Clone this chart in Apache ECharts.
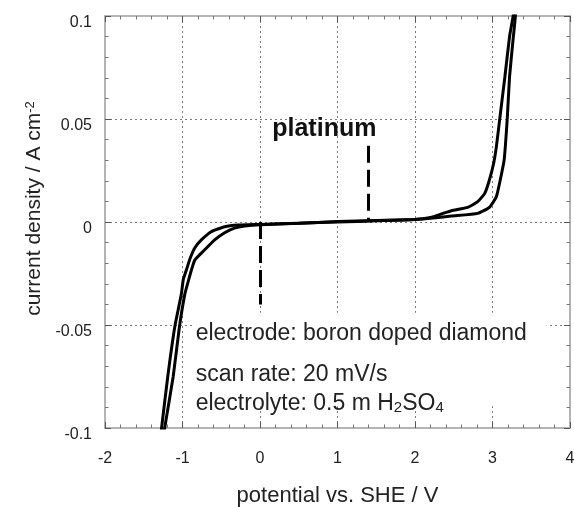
<!DOCTYPE html>
<html>
<head>
<meta charset="utf-8">
<script src="https://cdn.jsdelivr.net/npm/echarts@6/dist/echarts.min.js"></script>
<style>
  html, body { margin: 0; padding: 0; background: #fff; }
  #chart { width: 574px; height: 507px; }
</style>
</head>
<body>
<div id="chart"></div>
<script>
// branch A: outer line on the cathodic side, upper line on the anodic side
const potentialA = [-1.285, -1.27, -1.19, -1.10, -1.015, -0.99, -0.95, -0.90, -0.84, -0.757, -0.63, -0.456, -0.28,
  0.0, 0.5, 1.0, 1.5, 2.0, 2.2, 2.35, 2.47, 2.68, 2.81, 2.90, 2.96, 3.015, 3.05, 3.09, 3.16, 3.22, 3.265, 3.28];
const currentA = [-0.105, -0.100, -0.075, -0.051, -0.035, -0.028, -0.0233, -0.0175, -0.0125, -0.0087, -0.0047, -0.0023, -0.0015,
  -0.0012, -0.0006, 0.0, 0.0006, 0.0012, 0.0022, 0.004, 0.0055, 0.0071, 0.0099, 0.0139, 0.0204, 0.0285, 0.0366, 0.049, 0.0705, 0.090, 0.0997, 0.105];

// branch B: inner line on the cathodic side, lower line on the anodic side
const potentialB = [-1.245, -1.23, -1.12, -1.04, -0.97, -0.92, -0.885, -0.84, -0.716, -0.585, -0.456, -0.33, -0.2,
  0.0, 0.5, 1.0, 1.5, 2.0, 2.2, 2.47, 2.81, 2.96, 3.05, 3.10, 3.15, 3.19, 3.22, 3.265, 3.295, 3.30];
const currentB = [-0.105, -0.100, -0.075, -0.051, -0.035, -0.028, -0.0233, -0.0184, -0.0136, -0.0087, -0.0052, -0.003, -0.002,
  -0.0013, -0.0006, 0.0002, 0.0007, 0.0012, 0.0018, 0.0029, 0.0042, 0.0071, 0.0123, 0.0204, 0.030, 0.050, 0.0705, 0.0884, 0.0997, 0.105];

// dashed markers (potential, start current, end current)
const markerX = [0, 1.4];
const markerFrom = [0, 0.037];
const markerTo = [-0.04, 0];

// text notes
const noteLines = ['electrode: boron doped diamond', 'scan rate: 20 mV/s', 'electrolyte: 0.5 m H{sub|2}SO{sub|4}'];
const noteX = -0.83;
const noteY = [-0.054, -0.074, -0.088];
const ptLabel = 'platinum';
const ptAt = [0.83, 0.0451];

const FONT = '"Liberation Sans", Arial, Helvetica, sans-serif';

let chart = echarts.init(document.getElementById('chart'));

const zip = (xs, ys) => xs.map((x, i) => [x, ys[i]]);

const frameLine = { show: true, onZero: false, lineStyle: { color: '#b4b4b4', width: 2 } };
const inTick = { show: true, inside: true, length: 6, lineStyle: { color: '#555', width: 1 } };
const inMinor = { show: true, splitNumber: 5, length: 3.5, lineStyle: { color: '#777', width: 1 } };
const dotGrid = { show: true, lineStyle: { type: [2, 3], color: '#777', width: 1 } };

const option = {
  animation: false,
  backgroundColor: '#fff',
  // keep the plot box fixed, v6 would otherwise shrink it to fit the names
  grid: { left: 105, right: 4, top: 16, bottom: 79, outerBoundsMode: 'none' },
  xAxis: [{
    type: 'value', min: -2, max: 4, interval: 1, position: 'bottom',
    axisLine: frameLine, axisTick: inTick, minorTick: inMinor,
    axisLabel: { margin: 23, fontSize: 16, color: '#222', fontFamily: FONT },
    splitLine: dotGrid,
    name: 'potential vs. SHE / V', nameLocation: 'middle', nameGap: 57,
    nameTextStyle: { fontSize: 22, color: '#222', fontFamily: FONT }
  }, {
    type: 'value', min: -2, max: 4, interval: 1, position: 'top',
    axisLine: frameLine, axisTick: inTick, minorTick: inMinor,
    axisLabel: { show: false }, splitLine: { show: false }
  }],
  yAxis: [{
    type: 'value', min: -0.1, max: 0.1, interval: 0.05, position: 'left',
    axisLine: frameLine, axisTick: inTick, minorTick: inMinor,
    // labels in the original sit a little below their ticks
    axisLabel: { margin: 13, fontSize: 16, color: '#222', fontFamily: FONT, verticalAlign: 'top', lineHeight: 14 },
    splitLine: dotGrid,
    name: 'current density / A cm{sup|-2}', nameLocation: 'middle', nameGap: 58,
    nameTextStyle: {
      fontSize: 21, color: '#222', fontFamily: FONT, padding: [0, 0, 0, 27],
      rich: { sup: { fontSize: 13, fontFamily: FONT, color: '#222', verticalAlign: 'top', lineHeight: 13 } }
    }
  }, {
    type: 'value', min: -0.1, max: 0.1, interval: 0.05, position: 'right',
    axisLine: frameLine, axisTick: inTick, minorTick: inMinor,
    axisLabel: { show: false }, splitLine: { show: false }
  }],
  series: [{
    type: 'line', data: zip(potentialA, currentA), showSymbol: false, smooth: 0.15,
    lineStyle: { color: '#000', width: 3 },
    markLine: {
      silent: true, symbol: ['none', 'none'], label: { show: false },
      lineStyle: { color: '#000', width: 3, type: [17, 7] },
      data: markerX.map((x, i) => [{ coord: [x, markerFrom[i]] }, { coord: [x, markerTo[i]] }])
    }
  }, {
    type: 'line', data: zip(potentialB, currentB), showSymbol: false, smooth: 0.15,
    lineStyle: { color: '#000', width: 3 }
  }]
};

chart.setOption(option);

// notes placed at data coordinates
const px = (p) => chart.convertToPixel({ gridIndex: 0 }, p);
const boxA = px([-0.84, -0.044]);
const boxB = px([3.7, -0.0895]);
const graphics = [{
  type: 'rect', z: 1,
  shape: { x: boxA[0], y: boxA[1], width: boxB[0] - boxA[0], height: boxB[1] - boxA[1] },
  style: { fill: '#fff' }
}];
noteLines.forEach((t, i) => {
  const p = px([noteX, noteY[i]]);
  graphics.push({
    type: 'text', z: 3, x: p[0], y: p[1],
    style: {
      text: t, fontSize: 23, fontFamily: FONT, fill: '#222', align: 'left', verticalAlign: 'middle',
      rich: { sub: { fontSize: 15, fontFamily: FONT, fill: '#222', verticalAlign: 'bottom', padding: [10, 0, 0, 0] } }
    }
  });
});
const pt = px(ptAt);
graphics.push({
  type: 'text', z: 3, x: pt[0], y: pt[1],
  style: { text: ptLabel, fontSize: 25, fontWeight: 'bold', fontFamily: FONT, fill: '#111', align: 'center', verticalAlign: 'middle' }
});
chart.setOption({ graphic: graphics });
</script>
</body>
</html>
